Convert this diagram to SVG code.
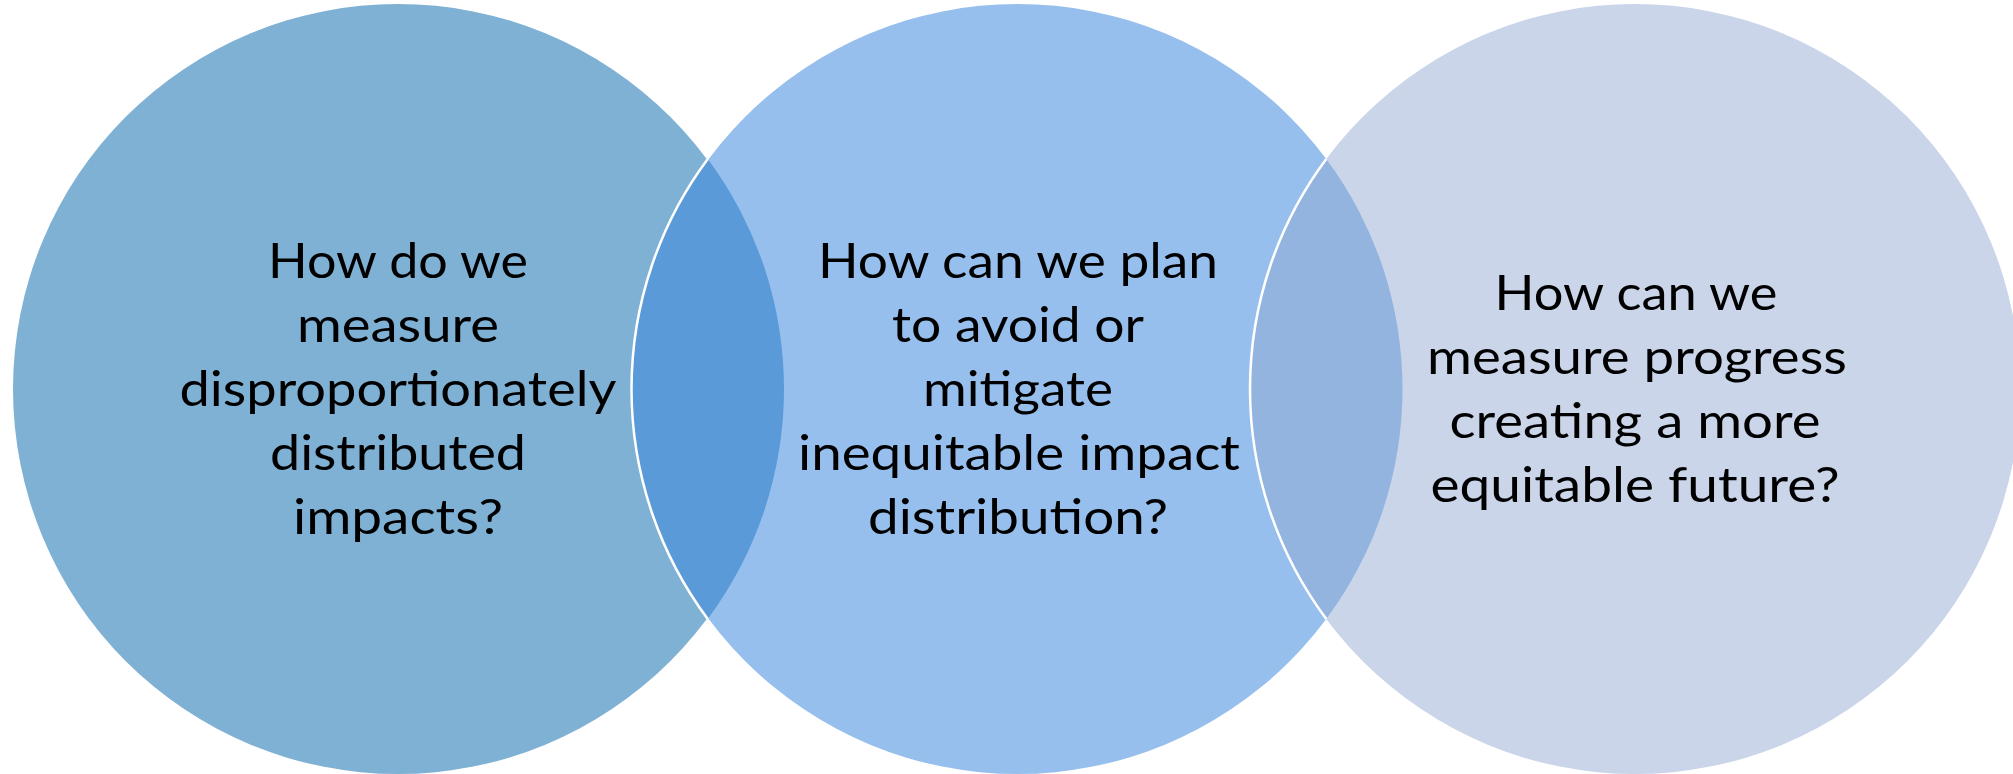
<svg xmlns="http://www.w3.org/2000/svg" width="2013" height="774" viewBox="0 0 2013 774">
  <style>
    .label { font-family: Lato, "Open Sans", "Liberation Sans", sans-serif; font-size: 48px; fill: #000000; text-anchor: middle; }
    .edge { fill: none; stroke: #FFFFFF; stroke-width: 2.5; }
  </style>
  <rect x="0" y="0" width="2013" height="774" fill="#FFFFFF"/>

  <!-- three overlapping circles -->
  <g id="circle-measure">
    <circle cx="398" cy="389" r="385" fill="#7FB1D5"/>
  </g>
  <g id="circle-plan">
    <circle cx="1017.5" cy="389" r="385" fill="#97BFED"/>
  </g>
  <g id="circle-progress">
    <circle cx="1635" cy="389" r="385" fill="#CAD5EA"/>
  </g>

  <!-- overlap lenses with white inner edge -->
  <g id="overlaps">
    <path d="M707.75 159 A385 385 0 0 0 707.75 619 A385 385 0 0 0 707.75 159 Z" fill="#5B9AD8"/>
    <path d="M1326.25 159 A385 385 0 0 0 1326.25 619 A385 385 0 0 0 1326.25 159 Z" fill="#94B4E0"/>
    <path class="edge" d="M707.75 159 A385 385 0 0 0 707.75 619"/>
    <path class="edge" d="M1326.25 159 A385 385 0 0 0 1326.25 619"/>
  </g>

  <!-- labels -->
  <g id="text-measure">
    <text class="label" x="398" y="277.5" textLength="260" lengthAdjust="spacingAndGlyphs">How do we</text>
    <text class="label" x="398" y="341.5" textLength="202" lengthAdjust="spacingAndGlyphs">measure</text>
    <text class="label" x="398" y="405.5" textLength="437" lengthAdjust="spacingAndGlyphs">disproportionately</text>
    <text class="label" x="398" y="469.5" textLength="256" lengthAdjust="spacingAndGlyphs">distributed</text>
    <text class="label" x="398" y="533.5" textLength="210" lengthAdjust="spacingAndGlyphs">impacts?</text>
  </g>
  <g id="text-plan">
    <text class="label" x="1018" y="278" textLength="400" lengthAdjust="spacingAndGlyphs">How can we plan</text>
    <text class="label" x="1018" y="342" textLength="252" lengthAdjust="spacingAndGlyphs">to avoid or</text>
    <text class="label" x="1018" y="406" textLength="190" lengthAdjust="spacingAndGlyphs">mitigate</text>
    <text class="label" x="1019" y="470" textLength="442" lengthAdjust="spacingAndGlyphs">inequitable impact</text>
    <text class="label" x="1018" y="534" textLength="300" lengthAdjust="spacingAndGlyphs">distribution?</text>
  </g>
  <g id="text-progress">
    <text class="label" x="1636" y="310" textLength="283" lengthAdjust="spacingAndGlyphs">How can we</text>
    <text class="label" x="1637" y="374" textLength="420" lengthAdjust="spacingAndGlyphs">measure progress</text>
    <text class="label" x="1635" y="438" textLength="371" lengthAdjust="spacingAndGlyphs">creating a more</text>
    <text class="label" x="1635" y="502" textLength="409" lengthAdjust="spacingAndGlyphs">equitable future?</text>
  </g>
</svg>
